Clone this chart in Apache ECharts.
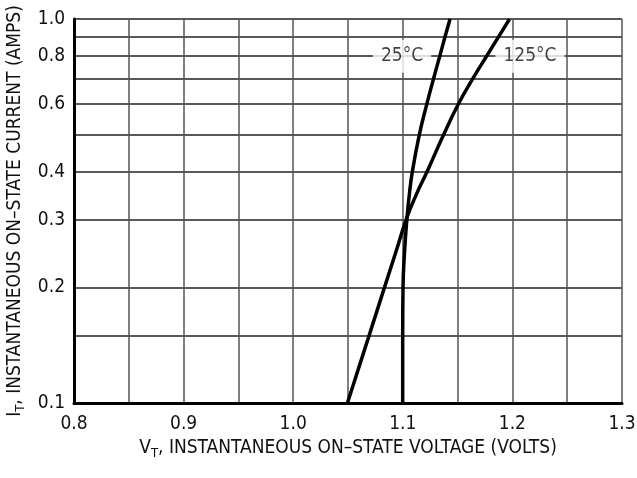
<!DOCTYPE html>
<html>
<head>
<meta charset="utf-8">
<script src="https://cdn.jsdelivr.net/npm/echarts@6.0.0/dist/echarts.min.js"></script>
<style>
  html, body { margin: 0; padding: 0; background: #fff; }
  #chart { width: 637px; height: 478px; }
</style>
</head>
<body>
<div id="chart"></div>
<script>
// 数据: 通态电流 (A) 与两个温度下的通态电压 (V)
var current = [0.1, 0.15, 0.2, 0.25, 0.3, 0.35, 0.4, 0.5, 0.6, 0.7, 0.8, 0.9, 1.0];
var volt25 = [1.0999, 1.0999, 1.1002, 1.1017, 1.1037, 1.1060, 1.1087, 1.1151, 1.1219, 1.1281, 1.1337, 1.1386, 1.1431];
var volt125 = [1.0495, 1.0693, 1.0833, 1.0942, 1.1030, 1.1125, 1.1221, 1.1373, 1.1506, 1.1640, 1.1764, 1.1875, 1.1974];

// 刻度
var xLabels = [0.8, 0.9, 1.0, 1.1, 1.2, 1.3];
var yLabels = [0.1, 0.2, 0.3, 0.4, 0.6, 0.8, 1.0];
var yGrid = [0.1, 0.15, 0.2, 0.3, 0.4, 0.5, 0.6, 0.7, 0.8, 0.9, 1.0];

// 曲线标注的位置
var tagNames = ['25°C', '125°C'];
var tagPoints = [[1.0993, 0.8], [1.216, 0.8]];

var font = '"Liberation Sans Narrow", "DejaVu Sans Condensed", "Liberation Sans", sans-serif';

function pairs(xs, ys) {
  var out = [];
  for (var i = 0; i < xs.length; i++) out.push([xs[i], ys[i]]);
  return out;
}

var chart = echarts.init(document.getElementById('chart'));

var option = {
  backgroundColor: '#fff',
  animation: false,
  grid: { left: 74, right: 15, top: 19, bottom: 75, containLabel: false, outerBoundsMode: 'none' },
  xAxis: {
    type: 'value',
    min: 0.8,
    max: 1.3,
    interval: 0.05,
    name: '{t|V}{s|T}{t|, INSTANTANEOUS ON–STATE VOLTAGE (VOLTS)}',
    nameLocation: 'middle',
    nameGap: 34,
    nameTextStyle: {
      rich: {
        t: { fontFamily: font, fontSize: 19, color: '#111' },
        s: { fontFamily: font, fontSize: 13, color: '#111', padding: [10, 0, 0, 0] }
      }
    },
    axisLine: { show: true, lineStyle: { color: '#000', width: 3 } },
    axisTick: { show: false },
    axisLabel: {
      customValues: xLabels,
      margin: 12,
      fontFamily: font,
      fontSize: 19,
      color: '#111',
      formatter: function (v) { return v.toFixed(1); }
    },
    splitLine: { show: true, lineStyle: { color: '#555', width: 1.5 } }
  },
  yAxis: {
    type: 'log',
    logBase: 10,
    min: 0.1,
    max: 1,
    name: '{t|I}{s|T}{t|, INSTANTANEOUS ON–STATE CURRENT (AMPS)}',
    nameLocation: 'middle',
    nameRotate: 90,
    nameGap: 47,
    nameTextStyle: {
      rich: {
        t: { fontFamily: font, fontSize: 19, color: '#111' },
        s: { fontFamily: font, fontSize: 13, color: '#111', padding: [10, 0, 0, 0] }
      }
    },
    axisLine: { show: true, lineStyle: { color: '#000', width: 3 } },
    axisTick: { show: false, customValues: yGrid },
    axisLabel: {
      customValues: yLabels,
      margin: 9,
      fontFamily: font,
      fontSize: 19,
      color: '#111',
      formatter: function (v) { return v.toFixed(1); }
    },
    splitLine: { show: true, lineStyle: { color: '#222', width: 1.5 } }
  },
  series: [
    {
      // 标注, 白底遮住网格线
      type: 'scatter',
      z: 1,
      symbolSize: 0,
      data: tagPoints.map(function (p, i) { return { value: p, name: tagNames[i] }; }),
      label: {
        show: true,
        position: 'inside',
        formatter: '{b}',
        fontFamily: font,
        fontSize: 19,
        color: '#111',
        backgroundColor: '#fff',
        padding: [7, 8, 7, 8]
      }
    },
    {
      name: '25°C',
      type: 'line',
      z: 5,
      smooth: 0.5,
      showSymbol: false,
      lineStyle: { color: '#000', width: 3.5 },
      data: pairs(volt25, current)
    },
    {
      name: '125°C',
      type: 'line',
      z: 5,
      smooth: 0.5,
      showSymbol: false,
      lineStyle: { color: '#000', width: 3.5 },
      data: pairs(volt125, current)
    }
  ]
};

chart.setOption(option);
</script>
</body>
</html>
